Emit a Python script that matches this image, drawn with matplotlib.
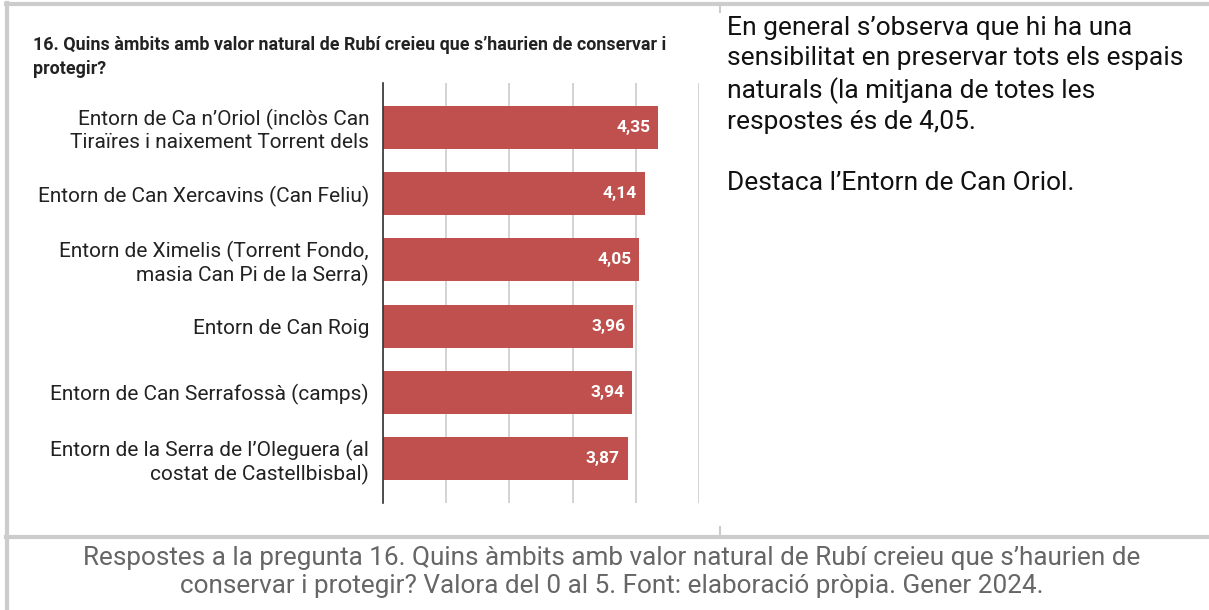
import matplotlib.pyplot as plt
from matplotlib.lines import Line2D

plt.rcParams['font.family'] = ['Roboto', 'DejaVu Sans']

# dades del gràfic
categories = [
    "Entorn de Ca n\u2019Oriol (inclòs Can\nTiraïres i naixement Torrent dels",
    "Entorn de Can Xercavins (Can Feliu)",
    "Entorn de Ximelis (Torrent Fondo,\nmasia Can Pi de la Serra)",
    "Entorn de Can Roig",
    "Entorn de Can Serrafossà (camps)",
    "Entorn de la Serra de l\u2019Oleguera (al\ncostat de Castellbisbal)",
]
values = [4.35, 4.14, 4.05, 3.96, 3.94, 3.87]
value_labels = ["4,35", "4,14", "4,05", "3,96", "3,94", "3,87"]

title = "16. Quins àmbits amb valor natural de Rubí creieu que s\u2019haurien de conservar i\nprotegir?"
side_text = ("En general s\u2019observa que hi ha una\nsensibilitat en preservar tots els espais\n"
             "naturals (la mitjana de totes les\nrespostes és de 4,05.\n\nDestaca l\u2019Entorn de Can Oriol.")
caption = ("Respostes a la pregunta 16. Quins àmbits amb valor natural de Rubí creieu que s\u2019haurien de\n"
           "conservar i protegir? Valora del 0 al 5. Font: elaboració pròpia. Gener 2024.")

W, H = 1209, 610
fig = plt.figure(figsize=(W / 100, H / 100), dpi=100)

# eixos en píxels de la imatge
x0, x1, y0, y1 = 383, 699, 83, 503
ax = fig.add_axes([x0 / W, 1 - y1 / H, (x1 - x0) / W, (y1 - y0) / H])

pos = list(range(len(categories)))
ax.barh(pos, values, height=0.65, color="#c0504d", zorder=3)
for p, v, lab in zip(pos, values, value_labels):
    ax.text(v - 0.12, p, lab, ha="right", va="center", color="white",
            fontsize=12.5, fontweight="bold", zorder=4)

ax.set_xlim(0, 5)
ax.set_ylim(len(categories) - 0.33, -0.67)
ax.set_xticks([0, 1, 2, 3, 4, 5])
ax.set_xticklabels([])
ax.tick_params(axis="x", length=0)
ax.tick_params(axis="y", length=0, pad=10)
ax.set_yticks(pos)
ax.set_yticklabels(categories, fontsize=15, color="#222222", linespacing=1.18)
ax.grid(axis="x", color="#cccccc", linewidth=1.2, zorder=0)
for s in ["top", "right", "bottom"]:
    ax.spines[s].set_visible(False)
ax.spines["left"].set_color("#333333")
ax.spines["left"].set_linewidth(1.2)
ax.spines["left"].set_zorder(5)

# títol del gràfic
fig.text(33 / W, 1 - 57 / H, title, ha="left", va="center", fontsize=12.9,
         fontweight="bold", color="#222222", linespacing=1.5)

# text lateral
fig.text(727 / W, 1 - 16 / H, side_text, ha="left", va="top", fontsize=19,
         color="#111111", linespacing=1.33)

# peu
fig.text(612 / W, 1 - 572 / H, caption, ha="center", va="center", fontsize=18.8,
         color="#666666", linespacing=1.25)

# vores de la taula
grey = "#cccccc"
def line(xs, ys, lw=3):
    fig.add_artist(Line2D([x / W for x in xs], [1 - y / H for y in ys],
                          color=grey, linewidth=lw, transform=fig.transFigure))

line([6, W], [4, 4])
line([7, 7], [3, H])
line([6, W], [537, 537])
line([720, 720], [3, 12], lw=1.5)
line([720, 720], [527, 537], lw=1.5)

fig.savefig("out.png", dpi=100)
